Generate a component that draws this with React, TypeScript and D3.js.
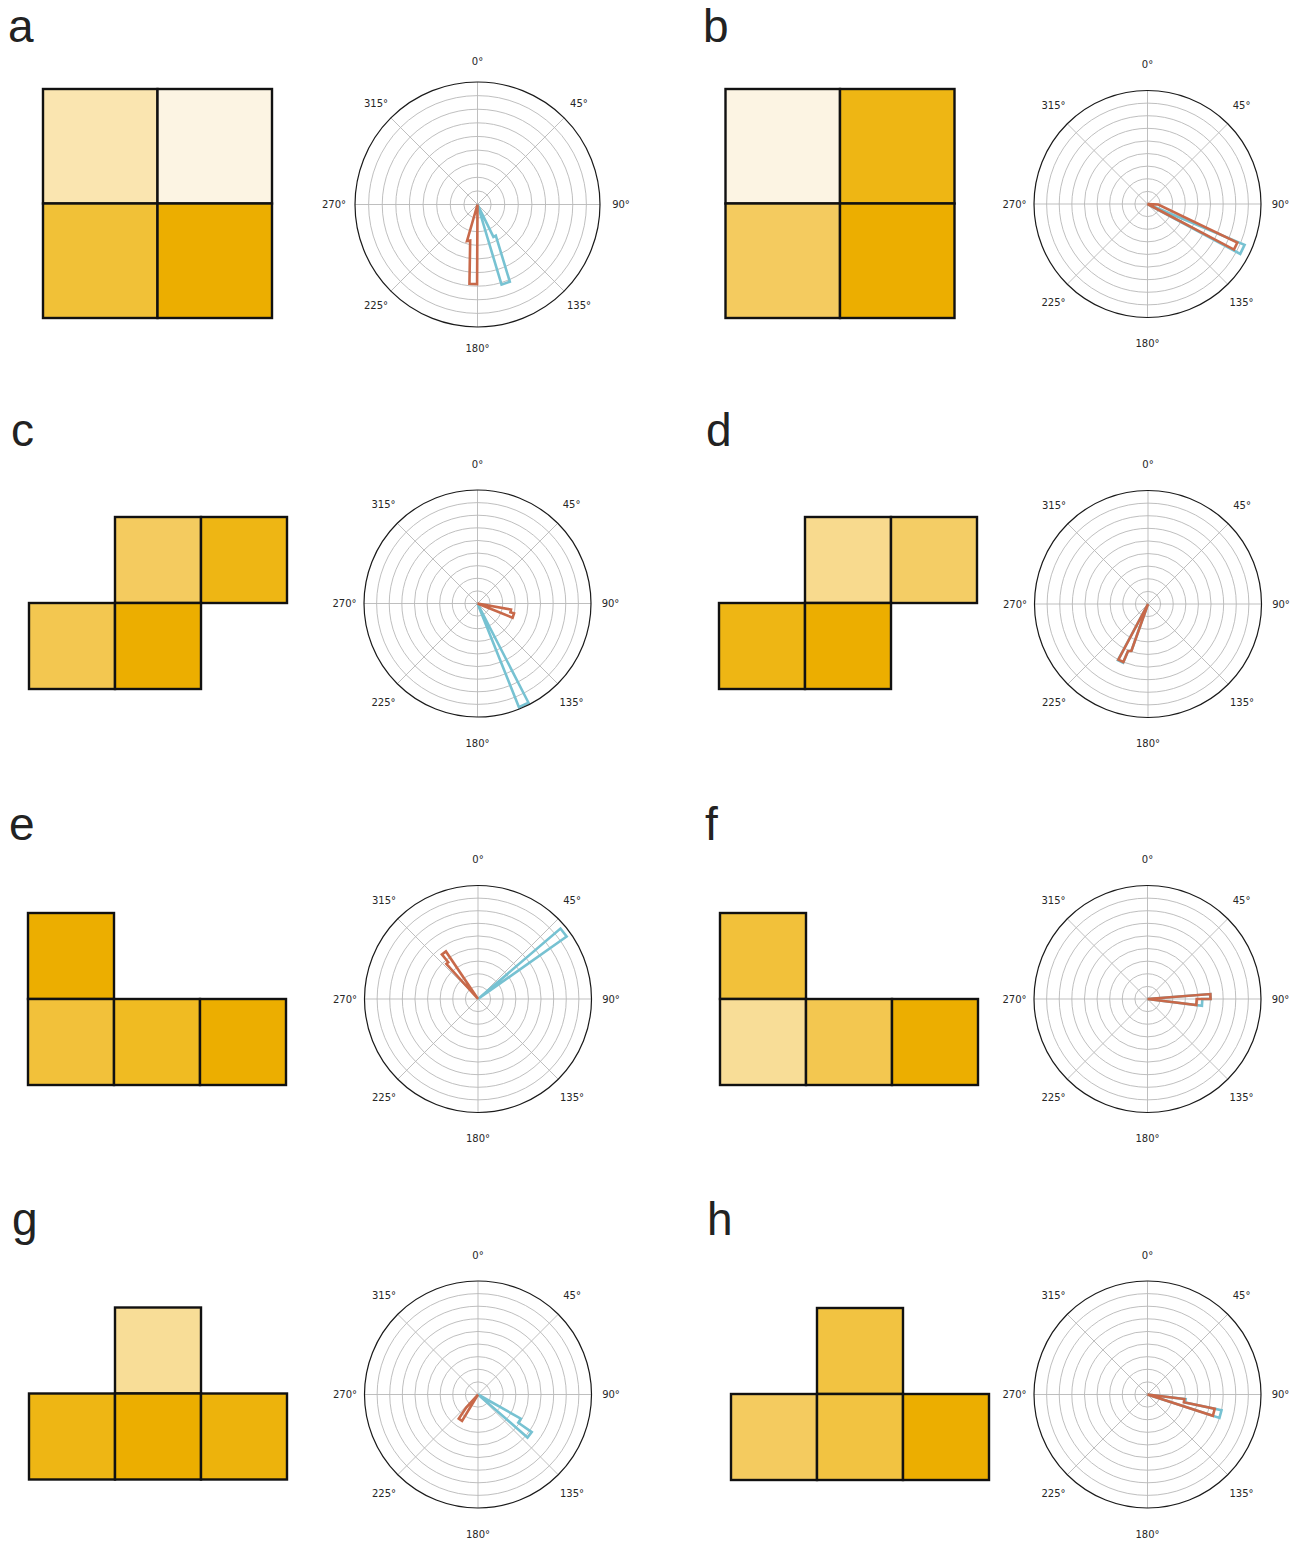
import React, { useEffect, useRef } from 'react';
import * as d3 from 'd3';

// cell shading values (0 = pale cream, 1 = full amber), [col, row, value]
const cellsA = [[0, 0, 0.33], [1, 0, 0.02], [0, 1, 0.73], [1, 1, 1.0]];
const cellsB = [[0, 0, 0.02], [1, 0, 0.88], [0, 1, 0.6], [1, 1, 1.0]];
const cellsC = [[1, 0, 0.6], [2, 0, 0.88], [0, 1, 0.65], [1, 1, 1.0]];
const cellsD = [[1, 0, 0.45], [2, 0, 0.58], [0, 1, 0.88], [1, 1, 1.0]];
const cellsE = [[0, 0, 1.0], [0, 1, 0.72], [1, 1, 0.8], [2, 1, 1.0]];
const cellsF = [[0, 0, 0.72], [0, 1, 0.42], [1, 1, 0.65], [2, 1, 1.0]];
const cellsG = [[1, 0, 0.42], [0, 1, 0.88], [1, 1, 1.0], [2, 1, 0.93]];
const cellsH = [[1, 0, 0.7], [0, 1, 0.6], [1, 1, 0.7], [2, 1, 1.0]];

// outline vertices of the angular histograms: [angle in degrees, radius in ring units]
const orangeA = [[180.3, 5.85], [185.8, 5.85], [191.5, 2.7], [196, 2.8]];
const blueA = [[153.8, 2.65], [149.5, 2.65], [157.3, 6.15], [163.3, 6.15]];
const orangeB = [[93, 0.85], [113.2, 7.75], [117.8, 7.75]];
const blueB = [[112.8, 8.35], [118.3, 8.35]];
const orangeC = [[100.2, 2.7], [105, 2.7], [105, 3.0], [112, 3.0]];
const blueC = [[152.8, 8.85], [158.2, 8.85]];
const orangeD = [[199.5, 3.95], [203, 4.05], [203, 5.0], [208, 5.0]];
const blueD = [[199.5, 3.95], [203, 4.05], [203, 5.05], [208.2, 5.05]];
const orangeE = [[318, 3.75], [321, 3.75], [321, 4.55], [326, 4.55]];
const blueE = [[49.5, 8.6], [54.8, 8.6]];
const orangeF = [[85.5, 5.0], [90, 5.0], [90, 3.9], [97, 3.9]];
const blueF = [[85.5, 5.0], [90, 5.0], [90, 4.35], [97, 4.35]];
const orangeG = [[211, 2.45], [218.5, 2.45], [222, 1.4]];
const blueG = [[119.5, 3.9], [125, 3.9], [125, 5.2], [131, 5.2]];
const orangeH = [[97, 2.95], [102, 2.95], [102, 5.45], [108, 5.45]];
const blueH = [[97, 3.05], [102, 3.05], [102, 6.0], [108, 6.0]];

const panelLetters = ['a', 'b', 'c', 'd', 'e', 'f', 'g', 'h'];
const thetaTicks = [0, 45, 90, 135, 180, 225, 270, 315];
const ringTicks = [1, 2, 3, 4, 5, 6, 7, 8, 9];

const panels = [
  { lx: 8, ly: 42, cells: cellsA, cols: 2, gx: 43, gy: 89, size: 114.5, cx: 477.5, cy: 204.5, r: 122.5, rx: 143.5, ry: 143.5, orange: orangeA, blue: blueA },
  { lx: 703, ly: 42, cells: cellsB, cols: 2, gx: 725.5, gy: 89, size: 114.5, cx: 1147.5, cy: 204, r: 113.5, rx: 133, ry: 139.5, orange: orangeB, blue: blueB },
  { lx: 11, ly: 446, cells: cellsC, cols: 3, gx: 29, gy: 517, size: 86, cx: 477.5, cy: 603.5, r: 113.5, rx: 133, ry: 139.5, orange: orangeC, blue: blueC },
  { lx: 706, ly: 446, cells: cellsD, cols: 3, gx: 719, gy: 517, size: 86, cx: 1148, cy: 604, r: 113.5, rx: 133, ry: 139.5, orange: orangeD, blue: blueD },
  { lx: 9, ly: 840, cells: cellsE, cols: 3, gx: 28, gy: 913, size: 86, cx: 478, cy: 999, r: 113.5, rx: 133, ry: 139.5, orange: orangeE, blue: blueE },
  { lx: 705, ly: 840, cells: cellsF, cols: 3, gx: 720, gy: 913, size: 86, cx: 1147.5, cy: 999, r: 113.5, rx: 133, ry: 139.5, orange: orangeF, blue: blueF },
  { lx: 12, ly: 1235, cells: cellsG, cols: 3, gx: 29, gy: 1307.5, size: 86, cx: 478, cy: 1394.5, r: 113.5, rx: 133, ry: 139.5, orange: orangeG, blue: blueG },
  { lx: 707, ly: 1235, cells: cellsH, cols: 3, gx: 731, gy: 1308, size: 86, cx: 1147.5, cy: 1394.5, r: 113.5, rx: 133, ry: 139.5, orange: orangeH, blue: blueH },
];

const shade = d3.scaleLinear<string>()
  .domain([0, 0.35, 0.6, 0.8, 1])
  .range(['#fcf5e6', '#fae4ad', '#f4cb5f', '#f0bb22', '#ecae00'])
  .interpolate(d3.interpolateRgb);

const ORANGE = '#c8694a';
const BLUE = '#77c2d2';

const App = () => {
  const svgRef = useRef<SVGSVGElement>(null);

  useEffect(() => {
    const svg = d3.select(svgRef.current);
    svg.selectAll('*').remove();

    panels.forEach((p, i) => {
      const g = svg.append('g');

      // panel letter
      g.append('text')
        .attr('x', p.lx)
        .attr('y', p.ly)
        .style('font-family', '"Liberation Sans", Arial, sans-serif')
        .style('font-size', '46px')
        .attr('fill', '#222')
        .text(panelLetters[i]);

      // shaded cell grid
      const x = d3.scaleLinear().domain([0, p.cols]).range([p.gx, p.gx + p.cols * p.size]);
      const y = d3.scaleLinear().domain([0, 2]).range([p.gy, p.gy + 2 * p.size]);
      g.selectAll('rect.cell')
        .data(p.cells)
        .enter()
        .append('rect')
        .attr('class', 'cell')
        .attr('x', d => x(d[0]))
        .attr('y', d => y(d[1]))
        .attr('width', x(1) - x(0))
        .attr('height', y(1) - y(0))
        .attr('fill', d => shade(d[2]))
        .attr('stroke', '#111')
        .attr('stroke-width', 2.4);

      // polar axes
      const rScale = d3.scaleLinear().domain([0, 9]).range([0, p.r]);
      const pg = g.append('g').attr('transform', `translate(${p.cx},${p.cy})`);

      pg.selectAll('circle.ring')
        .data(ringTicks.slice(0, -1))
        .enter()
        .append('circle')
        .attr('r', d => rScale(d))
        .attr('fill', 'none')
        .attr('stroke', '#b8b8b8')
        .attr('stroke-width', 0.9);

      pg.selectAll('line.spoke')
        .data(thetaTicks)
        .enter()
        .append('line')
        .attr('x1', 0)
        .attr('y1', 0)
        .attr('x2', d => rScale(9) * Math.sin(d * Math.PI / 180))
        .attr('y2', d => -rScale(9) * Math.cos(d * Math.PI / 180))
        .attr('stroke', '#b8b8b8')
        .attr('stroke-width', 0.9);

      const radial = d3.lineRadial<number[]>()
        .angle(d => d[0] * Math.PI / 180)
        .radius(d => rScale(d[1]))
        .curve(d3.curveLinearClosed);

      [[p.blue, BLUE], [p.orange, ORANGE]].forEach(([pts, col]) => {
        pg.append('path')
          .attr('d', radial([[0, 0], ...(pts as number[][]), [0, 0]]))
          .attr('fill', 'none')
          .attr('stroke', col as string)
          .attr('stroke-width', 2.6)
          .attr('stroke-linejoin', 'miter');
      });

      pg.append('circle')
        .attr('r', rScale(9))
        .attr('fill', 'none')
        .attr('stroke', '#1a1a1a')
        .attr('stroke-width', 1.2);

      pg.selectAll('text.theta')
        .data(thetaTicks)
        .enter()
        .append('text')
        .attr('x', d => p.rx * Math.sin(d * Math.PI / 180))
        .attr('y', d => -p.ry * Math.cos(d * Math.PI / 180))
        .attr('text-anchor', 'middle')
        .attr('dy', '0.35em')
        .style('font-family', '"DejaVu Sans", sans-serif')
        .style('font-size', '10px')
        .attr('fill', '#262626')
        .text(d => `${d}°`);
    });
  }, []);

  return (
    <svg
      ref={svgRef}
      width={1298}
      height={1541}
      style={{ position: 'absolute', left: 0, top: 0, background: '#fff' }}
    />
  );
};

export default App;
